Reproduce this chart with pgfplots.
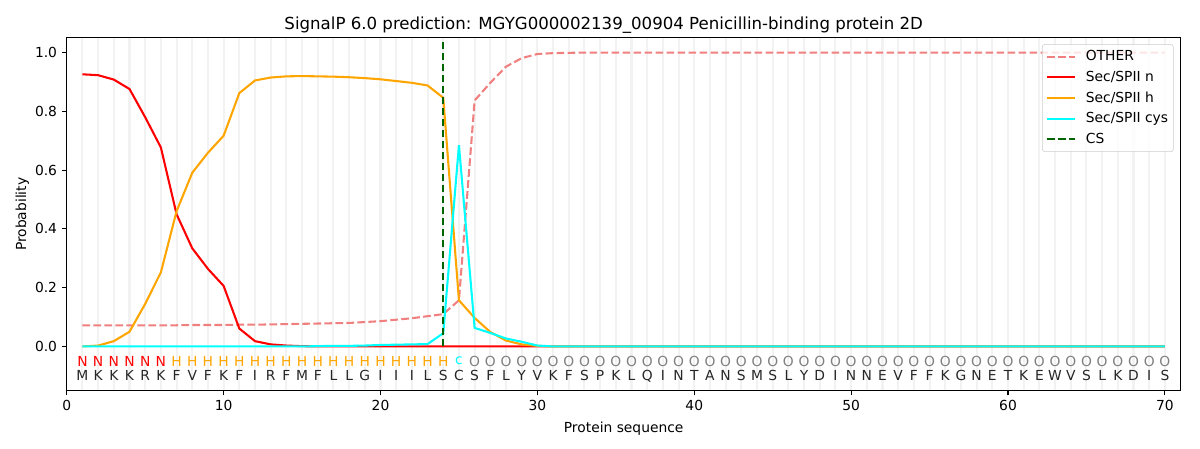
\documentclass[border=0pt]{standalone}
\usepackage{fontspec}
\setmainfont{DejaVu Sans}
\usepackage{pgfplots}
\usepackage{pgfplotstable}
\pgfplotsset{compat=1.18}
\definecolor{lcoral}{RGB}{240,128,128}
\definecolor{mplorange}{RGB}{255,165,0}
\definecolor{mplcyan}{RGB}{0,255,255}
\definecolor{mplgreen}{RGB}{0,100,0}
\definecolor{gridc}{RGB}{242,242,242}

\pgfplotstableread{
x other n h cys
1 0.072 0.926 0.000 0.000
2 0.072 0.923 0.003 0.000
3 0.072 0.908 0.018 0.000
4 0.072 0.876 0.050 0.000
5 0.072 0.780 0.145 0.000
6 0.072 0.677 0.252 0.000
7 0.072 0.450 0.460 0.000
8 0.073 0.334 0.591 0.000
9 0.073 0.264 0.659 0.000
10 0.073 0.206 0.717 0.000
11 0.074 0.061 0.862 0.000
12 0.074 0.018 0.905 0.000
13 0.075 0.007 0.915 0.000
14 0.076 0.003 0.919 0.000
15 0.077 0.001 0.920 0.000
16 0.078 0.000 0.919 0.001
17 0.079 0.000 0.918 0.002
18 0.080 0.000 0.916 0.002
19 0.083 0.000 0.913 0.003
20 0.086 0.000 0.909 0.005
21 0.091 0.000 0.903 0.006
22 0.096 0.000 0.897 0.007
23 0.103 0.000 0.888 0.008
24 0.110 0.000 0.846 0.045
25 0.157 0.000 0.157 0.685
26 0.837 0.000 0.097 0.063
27 0.897 0.000 0.049 0.046
28 0.952 0.000 0.020 0.027
29 0.981 0.000 0.007 0.016
30 0.995 0.000 0.002 0.003
31 0.998 0.000 0.000 0.000
32 0.999 0.000 0.000 0.000
33 1.000 0.000 0.000 0.000
34 1.000 0.000 0.000 0.000
35 1.000 0.000 0.000 0.000
36 1.000 0.000 0.000 0.000
37 1.000 0.000 0.000 0.000
38 1.000 0.000 0.000 0.000
39 1.000 0.000 0.000 0.000
40 1.000 0.000 0.000 0.000
41 1.000 0.000 0.000 0.000
42 1.000 0.000 0.000 0.000
43 1.000 0.000 0.000 0.000
44 1.000 0.000 0.000 0.000
45 1.000 0.000 0.000 0.000
46 1.000 0.000 0.000 0.000
47 1.000 0.000 0.000 0.000
48 1.000 0.000 0.000 0.000
49 1.000 0.000 0.000 0.000
50 1.000 0.000 0.000 0.000
51 1.000 0.000 0.000 0.000
52 1.000 0.000 0.000 0.000
53 1.000 0.000 0.000 0.000
54 1.000 0.000 0.000 0.000
55 1.000 0.000 0.000 0.000
56 1.000 0.000 0.000 0.000
57 1.000 0.000 0.000 0.000
58 1.000 0.000 0.000 0.000
59 1.000 0.000 0.000 0.000
60 1.000 0.000 0.000 0.000
61 1.000 0.000 0.000 0.000
62 1.000 0.000 0.000 0.000
63 1.000 0.000 0.000 0.000
64 1.000 0.000 0.000 0.000
65 1.000 0.000 0.000 0.000
66 1.000 0.000 0.000 0.000
67 1.000 0.000 0.000 0.000
68 1.000 0.000 0.000 0.000
69 1.000 0.000 0.000 0.000
70 1.000 0.000 0.000 0.000
}\probs

\pgfplotstableread{
x ly sy lab res
1 -0.05 -0.10 N M
2 -0.05 -0.10 N K
3 -0.05 -0.10 N K
4 -0.05 -0.10 N K
5 -0.05 -0.10 N R
6 -0.05 -0.10 N K
7 -0.05 -0.10 H F
8 -0.05 -0.10 H V
9 -0.05 -0.10 H F
10 -0.05 -0.10 H K
11 -0.05 -0.10 H F
12 -0.05 -0.10 H I
13 -0.05 -0.10 H R
14 -0.05 -0.10 H F
15 -0.05 -0.10 H M
16 -0.05 -0.10 H F
17 -0.05 -0.10 H L
18 -0.05 -0.10 H L
19 -0.05 -0.10 H G
20 -0.05 -0.10 H I
21 -0.05 -0.10 H I
22 -0.05 -0.10 H I
23 -0.05 -0.10 H L
24 -0.05 -0.10 H S
25 -0.05 -0.10 c C
26 -0.05 -0.10 O S
27 -0.05 -0.10 O F
28 -0.05 -0.10 O L
29 -0.05 -0.10 O Y
30 -0.05 -0.10 O V
31 -0.05 -0.10 O K
32 -0.05 -0.10 O F
33 -0.05 -0.10 O S
34 -0.05 -0.10 O P
35 -0.05 -0.10 O K
36 -0.05 -0.10 O L
37 -0.05 -0.10 O Q
38 -0.05 -0.10 O I
39 -0.05 -0.10 O N
40 -0.05 -0.10 O T
41 -0.05 -0.10 O A
42 -0.05 -0.10 O N
43 -0.05 -0.10 O S
44 -0.05 -0.10 O M
45 -0.05 -0.10 O S
46 -0.05 -0.10 O L
47 -0.05 -0.10 O Y
48 -0.05 -0.10 O D
49 -0.05 -0.10 O I
50 -0.05 -0.10 O N
51 -0.05 -0.10 O N
52 -0.05 -0.10 O E
53 -0.05 -0.10 O V
54 -0.05 -0.10 O F
55 -0.05 -0.10 O F
56 -0.05 -0.10 O K
57 -0.05 -0.10 O G
58 -0.05 -0.10 O N
59 -0.05 -0.10 O E
60 -0.05 -0.10 O T
61 -0.05 -0.10 O K
62 -0.05 -0.10 O E
63 -0.05 -0.10 O W
64 -0.05 -0.10 O V
65 -0.05 -0.10 O S
66 -0.05 -0.10 O L
67 -0.05 -0.10 O K
68 -0.05 -0.10 O D
69 -0.05 -0.10 O I
70 -0.05 -0.10 O S
}\seq

\begin{document}
\begin{tikzpicture}
\useasboundingbox (0,0) rectangle (867.24pt,324pt);
\node[anchor=base, font=\fontsize{12}{14}\selectfont] at (436.3pt,302.9pt)
  {SignalP 6.0 prediction: MGYG000002139\_00904 Penicillin-binding protein 2D};
\begin{axis}[
  at={(48.24pt,41.76pt)}, anchor=south west,
  scale only axis, width=804.96pt, height=254.88pt,
  xmin=0, xmax=71, ymin=-0.15, ymax=1.05,
  xtick={0,10,20,30,40,50,60,70},
  ytick={0,0.2,0.4,0.6,0.8,1.0},
  minor xtick={1,...,70},
  xminorgrids,
  every minor grid/.style={color=gridc, line width=1.5pt},
  minor tick length=0pt,
  major tick length=3.5pt,
  tick align=outside,
  tick pos=left,
  every tick/.style={black, line width=0.8pt},
  axis line style={line width=0.8pt},
  /pgf/number format/assume math mode=true,
  tick label style={font=\fontsize{10}{12}\selectfont},
  yticklabel style={/pgf/number format/.cd, fixed, fixed zerofill, precision=1},
  xlabel={Protein sequence}, ylabel={Probability},
  label style={font=\fontsize{10}{12}\selectfont},
  xlabel style={yshift=-1.6pt},
  ylabel style={yshift=-2.5pt},
  legend cell align=left,
  legend style={at={(axis description cs:1,1)}, anchor=north east, xshift=-5pt, yshift=-4.5pt,
    draw=black!20, rounded corners=2pt, fill=white, fill opacity=0.8, text opacity=1,
    font=\fontsize{10}{12}\selectfont, row sep=1.9pt, column sep=6.2pt, inner sep=2.6pt,
    nodes={inner xsep=1.2pt}},
  legend image code/.code={\draw[#1] (0pt,0pt) -- (20pt,0pt);},
]
\addplot[lcoral, line width=1.5pt, dash pattern=on 5.55pt off 2.4pt] table[x=x, y=other] {\probs};
\addlegendentry{OTHER}
\addplot[red, line width=1.5pt] table[x=x, y=n] {\probs};
\addlegendentry{Sec/SPII n}
\addplot[mplorange, line width=1.5pt] table[x=x, y=h] {\probs};
\addlegendentry{Sec/SPII h}
\addplot[mplcyan, line width=1.5pt] table[x=x, y=cys] {\probs};
\addlegendentry{Sec/SPII cys}
\addplot[mplgreen, line width=1.5pt, dash pattern=on 5.55pt off 2.4pt] coordinates {(24,0) (24,1.04)};
\addlegendentry{CS}

% label row
\addplot[draw=none, mark=none, forget plot, restrict x to domain=1:6,
  point meta=explicit symbolic, nodes near coords,
  every node near coord/.style={anchor=center, text=red, font=\fontsize{10}{12}\selectfont}]
  table[x=x, y=ly, meta=lab] {\seq};
\addplot[draw=none, mark=none, forget plot, restrict x to domain=7:24,
  point meta=explicit symbolic, nodes near coords,
  every node near coord/.style={anchor=center, text=mplorange, font=\fontsize{10}{12}\selectfont}]
  table[x=x, y=ly, meta=lab] {\seq};
\addplot[draw=none, mark=none, forget plot, restrict x to domain=25:25,
  point meta=explicit symbolic, nodes near coords,
  every node near coord/.style={anchor=center, text=mplcyan, font=\fontsize{10}{12}\selectfont}]
  table[x=x, y=ly, meta=lab] {\seq};
\addplot[draw=none, mark=none, forget plot, restrict x to domain=26:70,
  point meta=explicit symbolic, nodes near coords,
  every node near coord/.style={anchor=center, text=gray, font=\fontsize{10}{12}\selectfont}]
  table[x=x, y=ly, meta=lab] {\seq};
% residue row
\addplot[draw=none, mark=none, forget plot,
  point meta=explicit symbolic, nodes near coords,
  every node near coord/.style={anchor=center, text=black!85, font=\fontsize{10}{12}\selectfont}]
  table[x=x, y=sy, meta=res] {\seq};
\end{axis}
\end{tikzpicture}
\end{document}
